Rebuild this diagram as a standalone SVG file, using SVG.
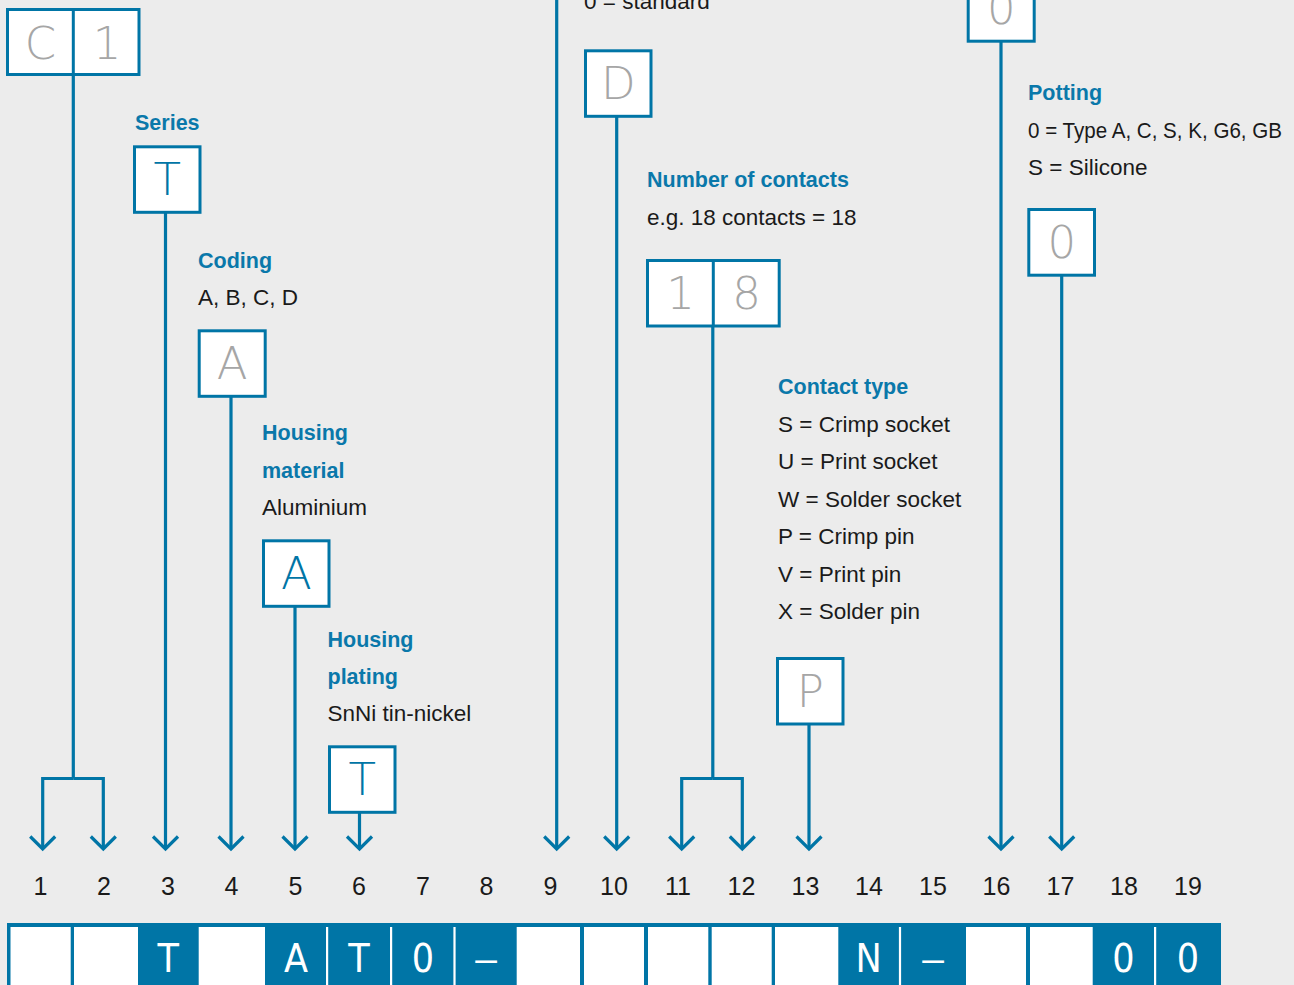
<svg xmlns="http://www.w3.org/2000/svg" width="1294" height="985" viewBox="0 0 1294 985">
<defs>
<style>
.bg{fill:#ececec}
.box{fill:#fff;stroke:#0075a6;stroke-width:3}
.dv{stroke:#0075a6;stroke-width:3}
.ph{font-family:"DejaVu Sans","Liberation Sans",sans-serif;font-stretch:condensed;font-weight:200;font-size:45px;fill:#a6a6a6;text-anchor:middle}
.sel{font-family:"DejaVu Sans","Liberation Sans",sans-serif;font-stretch:condensed;font-weight:200;font-size:45px;fill:#0075a6;text-anchor:middle}
.h{font-family:"Liberation Sans",sans-serif;font-weight:bold;font-size:21.5px;fill:#0a78aa}
.t{font-family:"Liberation Sans",sans-serif;font-size:22.5px;fill:#1a1a1a}
.n{font-family:"Liberation Sans",sans-serif;font-size:25px;fill:#1a1a1a;text-anchor:middle}
.st{fill:none;stroke:#0075a6;stroke-width:3.2}
.ar{fill:none;stroke:#0075a6;stroke-width:3.2;marker-end:url(#arr)}
.cw{fill:#fff}
.bl{font-family:"DejaVu Sans","Liberation Sans",sans-serif;font-stretch:condensed;font-size:39px;fill:#fff;text-anchor:middle}
.dash{font-family:"Liberation Sans",sans-serif;font-size:39px;fill:#fff;text-anchor:middle}
</style>
<marker id="arr" markerUnits="userSpaceOnUse" viewBox="-16 -16 32 32" markerWidth="32" markerHeight="32" refX="0" refY="0" orient="auto"><path d="M-12.5,-12.5 L0,0 L-12.5,12.5" fill="none" stroke="#0075a6" stroke-width="3.2"/></marker>
</defs>
<rect class="bg" x="0" y="0" width="1294" height="985"/>

<g id="connectors">
<path class="st" d="M73.3,74.5 V778.5"/>
<path class="ar" d="M73.3,778.5 H42.7 V849"/>
<path class="ar" d="M73.3,778.5 H103.3 V849"/>
<path class="ar" d="M165.5,212 V849"/>
<path class="ar" d="M231,396 V849"/>
<path class="ar" d="M295,606 V849"/>
<path class="ar" d="M359.5,812 V849"/>
<path class="ar" d="M556.7,0 V849"/>
<path class="ar" d="M616.7,116 V849"/>
<path class="st" d="M712.8,326 V778.5"/>
<path class="ar" d="M712.8,778.5 H681.7 V849"/>
<path class="ar" d="M712.8,778.5 H742.3 V849"/>
<path class="ar" d="M809,722 V849"/>
<path class="ar" d="M1001,41 V849"/>
<path class="ar" d="M1061.7,275 V849"/>
</g>

<g id="node-c1">
<rect class="box" x="7.5" y="9.5" width="131.5" height="65"/>
<line class="dv" x1="73.3" y1="9.5" x2="73.3" y2="74.5"/>
<text class="ph" x="40.5" y="58.5">C</text>
<text class="ph" x="107" y="58.5">1</text>
</g>

<g id="node-series">
<text class="h" x="135" y="130">Series</text>
<rect class="box" x="134.5" y="146.8" width="65.5" height="65.5"/>
<text class="sel" x="167.3" y="195">T</text>
</g>

<g id="node-coding">
<text class="h" x="198" y="268">Coding</text>
<text class="t" x="198" y="305">A, B, C, D</text>
<rect class="box" x="199.2" y="330.8" width="66" height="65.5"/>
<text class="ph" x="232.2" y="379">A</text>
</g>

<g id="node-housing-material">
<text class="h" x="262" y="440">Housing</text>
<text class="h" x="262" y="477.5">material</text>
<text class="t" x="262" y="514.5">Aluminium</text>
<rect class="box" x="263.5" y="540.8" width="65.5" height="65.5"/>
<text class="sel" x="296.3" y="589">A</text>
</g>

<g id="node-housing-plating">
<text class="h" x="327.5" y="647">Housing</text>
<text class="h" x="327.5" y="684">plating</text>
<text class="t" x="327.5" y="721">SnNi tin-nickel</text>
<rect class="box" x="329.5" y="746.8" width="65.5" height="65.5"/>
<text class="sel" x="362.3" y="795">T</text>
</g>

<g id="node-standard">
<text class="t" x="584" y="9">0 = standard</text>
<rect class="box" x="585.5" y="50.8" width="65.5" height="65.5"/>
<text class="ph" x="618.3" y="99">D</text>
</g>

<g id="node-contacts">
<text class="h" x="647" y="187">Number of contacts</text>
<text class="t" x="647" y="225">e.g. 18 contacts = 18</text>
<rect class="box" x="647.5" y="260.5" width="131.7" height="65.5"/>
<line class="dv" x1="713.3" y1="260.5" x2="713.3" y2="326"/>
<text class="ph" x="680.5" y="309">1</text>
<text class="ph" x="746.5" y="309">8</text>
</g>

<g id="node-contact-type">
<text class="h" x="778" y="394">Contact type</text>
<text class="t" x="778" y="431.5">S = Crimp socket</text>
<text class="t" x="778" y="469">U = Print socket</text>
<text class="t" x="778" y="506.5">W = Solder socket</text>
<text class="t" x="778" y="544">P = Crimp pin</text>
<text class="t" x="778" y="581.5">V = Print pin</text>
<text class="t" x="778" y="619">X = Solder pin</text>
<rect class="box" x="777.5" y="658.5" width="65.5" height="65.5"/>
<text class="ph" x="810.3" y="707">P</text>
</g>

<g id="node-top-0">
<rect class="box" x="968.2" y="-24.3" width="66" height="65.5"/>
<text class="ph" x="1001.2" y="24">0</text>
</g>

<g id="node-potting">
<text class="h" x="1028" y="100">Potting</text>
<text class="t" x="1028" y="137.5" textLength="254" lengthAdjust="spacingAndGlyphs">0 = Type A, C, S, K, G6, GB</text>
<text class="t" x="1028" y="175">S = Silicone</text>
<rect class="box" x="1028.8" y="209.5" width="65.7" height="65.7"/>
<text class="ph" x="1061.7" y="258">0</text>
</g>

<g id="positions">
<text class="n" x="40.5" y="895">1</text>
<text class="n" x="104" y="895">2</text>
<text class="n" x="168" y="895">3</text>
<text class="n" x="231.5" y="895">4</text>
<text class="n" x="295.5" y="895">5</text>
<text class="n" x="359" y="895">6</text>
<text class="n" x="423" y="895">7</text>
<text class="n" x="486.5" y="895">8</text>
<text class="n" x="550.5" y="895">9</text>
<text class="n" x="614" y="895">10</text>
<text class="n" x="678" y="895">11</text>
<text class="n" x="741.5" y="895">12</text>
<text class="n" x="805.5" y="895">13</text>
<text class="n" x="869" y="895">14</text>
<text class="n" x="933" y="895">15</text>
<text class="n" x="996.5" y="895">16</text>
<text class="n" x="1060.5" y="895">17</text>
<text class="n" x="1124" y="895">18</text>
<text class="n" x="1188" y="895">19</text>
</g>

<g id="code-bar">
<rect x="7" y="923" width="1214" height="70" fill="#0075a6"/>
<rect class="cw" x="10.5" y="927" width="60.2" height="60"/>
<rect class="cw" x="74" y="927" width="64" height="60"/>
<rect class="cw" x="198.7" y="927" width="66.3" height="60"/>
<rect class="cw" x="516.7" y="927" width="63.3" height="60"/>
<rect class="cw" x="584" y="927" width="60" height="60"/>
<rect class="cw" x="648" y="927" width="60.3" height="60"/>
<rect class="cw" x="711.7" y="927" width="60" height="60"/>
<rect class="cw" x="775" y="927" width="63.3" height="60"/>
<rect class="cw" x="966" y="927" width="60" height="60"/>
<rect class="cw" x="1030" y="927" width="62.7" height="60"/>
<rect class="cw" x="326" y="927" width="2.2" height="60"/>
<rect class="cw" x="390" y="927" width="2.2" height="60"/>
<rect class="cw" x="453.4" y="927" width="2.2" height="60"/>
<rect class="cw" x="898.9" y="927" width="2.2" height="60"/>
<rect class="cw" x="1154" y="927" width="2.2" height="60"/>
<text class="bl" x="168.3" y="972">T</text>
<text class="bl" x="296" y="972">A</text>
<text class="bl" x="359" y="972">T</text>
<text class="bl" x="422.8" y="972">0</text>
<text class="dash" x="486" y="972">–</text>
<text class="bl" x="868.7" y="972">N</text>
<text class="dash" x="933" y="972">–</text>
<text class="bl" x="1123.4" y="972">0</text>
<text class="bl" x="1188" y="972">0</text>
</g>
</svg>
